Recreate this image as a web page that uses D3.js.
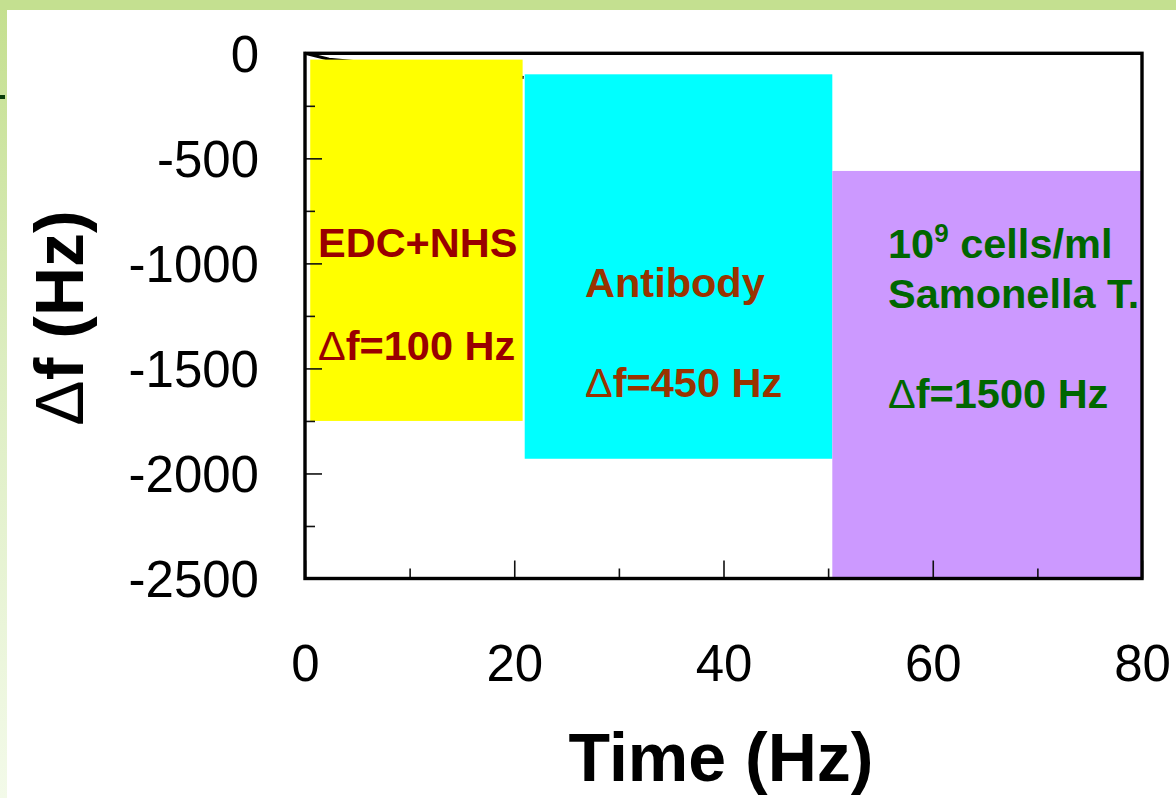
<!DOCTYPE html>
<html>
<head>
<meta charset="utf-8">
<script src="https://cdn.jsdelivr.net/npm/d3@7"></script>
<style>
  html, body { margin: 0; padding: 0; background: #ffffff; }
  svg { display: block; }
  text { font-family: "Liberation Sans", Arial, Helvetica, sans-serif; }
</style>
</head>
<body>
<svg id="chart" width="1176" height="798"></svg>
<script>
// Frequency-shift trace (time on the x axis, Δf in Hz on the y axis)
const traceTime = [0, 2.3, 20.9];
const traceShift = [0, -28, -115];

// Shaded stages of the immobilisation sequence
const stageNames = ["EDC+NHS", "Antibody", "Salmonella"];
const stageStart = [0.5, 21, 50.4];
const stageEnd = [20.8, 50.4, 80];
const stageTop = [-30, -100, -560];
const stageBottom = [-1750, -1930, -2500];
const stageColors = ["#ffff00", "#00ffff", "#cc99ff"];

// Stage annotations
const stageLines = [
  ["EDC+NHS", "", "Δf=100 Hz"],
  ["Antibody", "", "Δf=450 Hz"],
  ["10^9 cells/ml", "Samonella T.", "", "Δf=1500 Hz"]
];
const stageTextColors = ["#990000", "#993300", "#006600"];

// Axis ticks
const xMajorTicks = [0, 20, 40, 60, 80];
const xMinorTicks = [10, 30, 50, 70];
const yMajorTicks = [0, -500, -1000, -1500, -2000, -2500];
const yMinorTicks = [-250, -750, -1250, -1750, -2250];

const xTitle = "Time (Hz)";

const svg = d3.select("#chart");
const W = 1176, H = 798;

// Slide background: green bands along the top and left edges
const defs = svg.append("defs");
const grad = defs.append("linearGradient")
  .attr("id", "edgeGrad").attr("x1", 0).attr("y1", 0).attr("x2", 0).attr("y2", 1);
grad.append("stop").attr("offset", "0%").attr("stop-color", "#c4df8e");
grad.append("stop").attr("offset", "45%").attr("stop-color", "#dcedc0");
grad.append("stop").attr("offset", "100%").attr("stop-color", "#f3fae9");
svg.append("rect").attr("x", 0).attr("y", 0).attr("width", 7).attr("height", H)
  .attr("fill", "url(#edgeGrad)");
svg.append("rect").attr("x", 0).attr("y", 0).attr("width", W).attr("height", 10)
  .attr("fill", "#c4e090");
svg.append("rect").attr("x", 0).attr("y", 95).attr("width", 5).attr("height", 4)
  .attr("fill", "#0b3d0b");

const plot = { left: 305, right: 1142, top: 53.3, bottom: 578.5 };

const x = d3.scaleLinear().domain([0, 80]).range([plot.left, plot.right]);
const y = d3.scaleLinear().domain([0, -2500]).range([plot.top, plot.bottom]);

// Trace underneath the stage boxes
const line = d3.line().x((d, i) => x(traceTime[i])).y(d => y(d));
svg.append("path").datum(traceShift)
  .attr("d", line)
  .attr("fill", "none").attr("stroke", "#000").attr("stroke-width", 3);

// Stage boxes
svg.append("g").selectAll("rect")
  .data(stageNames)
  .join("rect")
  .attr("x", (d, i) => x(stageStart[i]))
  .attr("y", (d, i) => y(stageTop[i]))
  .attr("width", (d, i) => x(stageEnd[i]) - x(stageStart[i]))
  .attr("height", (d, i) => y(stageBottom[i]) - y(stageTop[i]))
  .attr("fill", (d, i) => stageColors[i]);

// Axes with inward ticks
const plainNumber = d => String(d);
const tickStyle = g => {
  g.select(".domain").remove();
  g.selectAll(".tick line").attr("stroke", "#111").attr("stroke-width", 1.6);
  g.selectAll(".tick text")
    .attr("fill", "#000")
    .style("font-size", "51px")
    .style("font-family", "'Liberation Sans', Arial, sans-serif");
};

svg.append("g")
  .attr("transform", `translate(${plot.left},0)`)
  .call(d3.axisLeft(y).tickValues(yMajorTicks).tickFormat(plainNumber)
    .tickSizeInner(-17).tickSizeOuter(0).tickPadding(46))
  .call(tickStyle)
  .selectAll(".tick text").attr("dy", "0.36em");

svg.append("g")
  .attr("transform", `translate(${plot.left},0)`)
  .call(d3.axisLeft(y).tickValues(yMinorTicks).tickFormat("")
    .tickSizeInner(-10).tickSizeOuter(0))
  .call(tickStyle);

svg.append("g")
  .attr("transform", `translate(0,${plot.bottom})`)
  .call(d3.axisBottom(x).tickValues(xMajorTicks).tickFormat(plainNumber)
    .tickSizeInner(-18).tickSizeOuter(0).tickPadding(66))
  .call(tickStyle);

svg.append("g")
  .attr("transform", `translate(0,${plot.bottom})`)
  .call(d3.axisBottom(x).tickValues(xMinorTicks).tickFormat("")
    .tickSizeInner(-10).tickSizeOuter(0))
  .call(tickStyle);

// Plot frame
svg.append("rect")
  .attr("x", plot.left).attr("y", plot.top)
  .attr("width", plot.right - plot.left).attr("height", plot.bottom - plot.top)
  .attr("fill", "none").attr("stroke", "#000").attr("stroke-width", 3.4);

// Stage annotations
const lineGap = 50;
const firstBaseline = [257, 297, 258];
const textX = [318, 585, 888];
stageLines.forEach((lines, i) => {
  const t = svg.append("text")
    .attr("fill", stageTextColors[i])
    .style("font-size", "41.5px")
    .style("font-weight", "bold");
  lines.forEach((s, j) => {
    const yy = firstBaseline[i] + j * lineGap + (i === 0 ? j * 1.5 : 0);
    if (s === "") return;
    if (s.includes("^")) {
      const [base, rest] = s.split("^");
      const ts = t.append("tspan").attr("x", textX[i]).attr("y", yy);
      ts.append("tspan").text(base);
      ts.append("tspan").attr("dy", -16).style("font-size", "26px").text(rest[0]);
      ts.append("tspan").attr("dy", 16).text(rest.slice(1));
    } else if (s.startsWith("Δ")) {
      const ts = t.append("tspan").attr("x", textX[i]).attr("y", yy);
      ts.append("tspan").style("font-weight", "normal").text("Δ");
      ts.append("tspan").text(s.slice(1));
    } else {
      t.append("tspan").attr("x", textX[i]).attr("y", yy).text(s);
    }
  });
});

// Axis titles
svg.append("text")
  .attr("x", 721).attr("y", 781)
  .attr("text-anchor", "middle")
  .style("font-size", "68px").style("font-weight", "bold")
  .text(xTitle);

const yTitle = svg.append("text")
  .attr("transform", "translate(83,318) rotate(-90)")
  .attr("text-anchor", "middle")
  .style("font-size", "68px").style("font-weight", "bold");
yTitle.append("tspan").style("font-weight", "normal").text("Δ");
yTitle.append("tspan").text("f (Hz)");
</script>
</body>
</html>
